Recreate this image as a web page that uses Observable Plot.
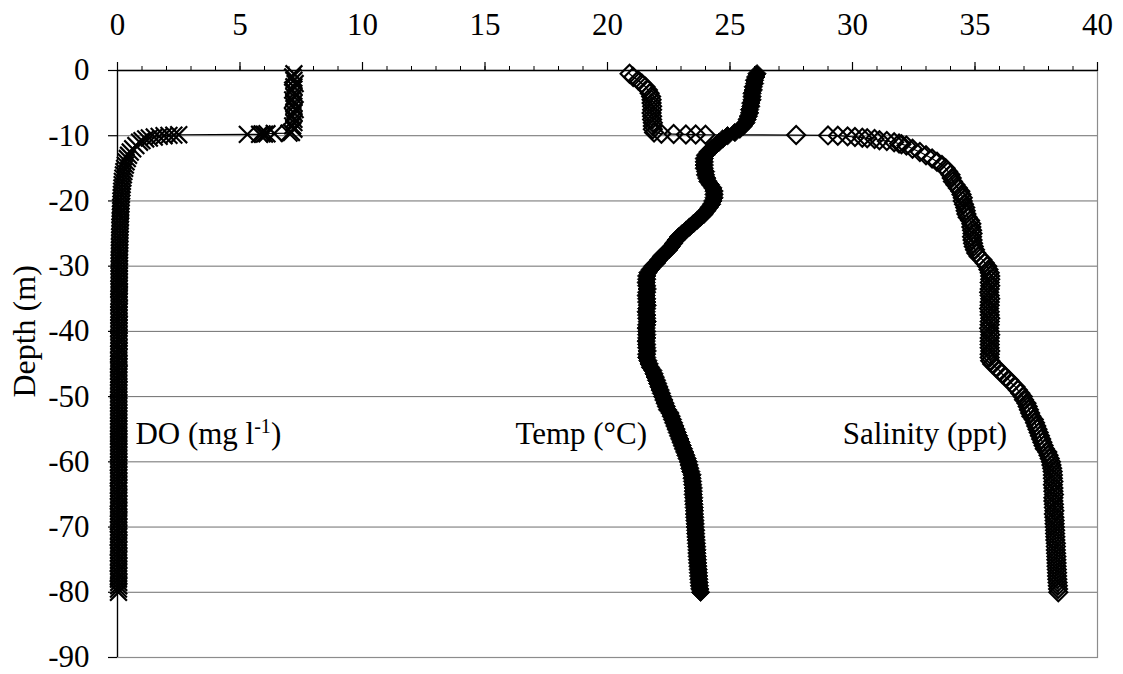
<!DOCTYPE html>
<html><head><meta charset="utf-8">
<script src="https://cdn.jsdelivr.net/npm/d3@7"></script>
<script src="https://cdn.jsdelivr.net/npm/@observablehq/plot@0.6"></script>
<style>
html,body{margin:0;padding:0;background:#fff;}
#chart svg{display:block;}
</style></head>
<body><div id="chart"></div>
<script>
// ---- axis ticks ----
const xTicks = [0, 5, 10, 15, 20, 25, 30, 35, 40];
const xMinorTicks = [0,1,2,3,4,5,6,7,8,9,10,11,12,13,14,15,16,17,18,19,20,21,22,23,24,25,26,27,28,29,30,31,32,33,34,35,36,37,38,39,40];
const yTicks = [0, -10, -20, -30, -40, -50, -60, -70, -80, -90];
const yGrid = [-10, -20, -30, -40, -50, -60, -70, -80];

// ---- shared depth grid (m) ----
const depth = [
  -0.5,-1,-1.5,-2,-2.5,-3,-3.5,-4,-4.5,-5,
  -5.5,-6,-6.5,-7,-7.5,-8,-8.5,-9,-9.5,-10,
  -10.5,-11,-11.5,-12,-12.5,-13,-13.5,-14,-14.5,-15,
  -15.5,-16,-16.5,-17,-17.5,-18,-18.5,-19,-19.5,-20,
  -20.5,-21,-21.5,-22,-22.5,-23,-23.5,-24,-24.5,-25,
  -25.5,-26,-26.5,-27,-27.5,-28,-28.5,-29,-29.5,-30,
  -30.5,-31,-31.5,-32,-32.5,-33,-33.5,-34,-34.5,-35,
  -35.5,-36,-36.5,-37,-37.5,-38,-38.5,-39,-39.5,-40,
  -40.5,-41,-41.5,-42,-42.5,-43,-43.5,-44,-44.5,-45,
  -45.5,-46,-46.5,-47,-47.5,-48,-48.5,-49,-49.5,-50,
  -50.5,-51,-51.5,-52,-52.5,-53,-53.5,-54,-54.5,-55,
  -55.5,-56,-56.5,-57,-57.5,-58,-58.5,-59,-59.5,-60,
  -60.5,-61,-61.5,-62,-62.5,-63,-63.5,-64,-64.5,-65,
  -65.5,-66,-66.5,-67,-67.5,-68,-68.5,-69,-69.5,-70,
  -70.5,-71,-71.5,-72,-72.5,-73,-73.5,-74,-74.5,-75,
  -75.5,-76,-76.5,-77,-77.5,-78,-78.5,-79,-79.5,-80
];

// ---- DO (mg l-1) on the grid ----
const doValue = [
  7.2,7.15,7.2,7.25,7.2,7.15,7.2,7.2,7.15,7.2,
  7.2,7.25,7.2,7.15,7.2,7.2,7.15,7.2,7.1,1.9,
  1.15,0.9,0.75,0.62,0.52,0.45,0.4,0.35,0.32,0.29,
  0.26,0.24,0.22,0.2,0.19,0.18,0.17,0.16,0.15,0.14,
  0.14,0.13,0.13,0.12,0.12,0.11,0.11,0.1,0.1,0.1,
  0.09,0.09,0.09,0.08,0.08,0.08,0.08,0.07,0.07,0.07,
  0.07,0.07,0.07,0.07,0.07,0.07,0.06,0.07,0.07,0.06,
  0.06,0.06,0.07,0.06,0.06,0.06,0.06,0.06,0.06,0.06,
  0.06,0.06,0.06,0.05,0.06,0.06,0.05,0.06,0.05,0.05,
  0.05,0.05,0.06,0.05,0.05,0.05,0.05,0.05,0.05,0.05,
  0.05,0.05,0.05,0.05,0.05,0.05,0.05,0.05,0.05,0.05,
  0.05,0.05,0.05,0.05,0.05,0.05,0.05,0.05,0.05,0.05,
  0.05,0.05,0.05,0.05,0.04,0.05,0.05,0.05,0.04,0.05,
  0.05,0.04,0.05,0.05,0.05,0.04,0.05,0.05,0.04,0.05,
  0.05,0.05,0.04,0.05,0.05,0.04,0.05,0.04,0.05,0.05,
  0.04,0.05,0.05,0.04,0.05,0.04,0.05,0.05,0.04,0.04
];
// DO readings spread across the oxycline near -10 m
const doExtraDepth = [-9.6,-9.65,-9.7,-9.72,-9.75,-9.78,-9.8,-9.85,-9.9,-9.95,-10.1,-10.2,-10.35,-10.75];
const doExtraValue = [7.0,6.4,6.1,5.9,6.0,5.8,5.3,2.5,2.3,2.1,1.7,1.5,1.3,1.0];

// ---- Temperature (°C) on the grid ----
const tempValue = [
  26.1,26.05,26.0,26.0,25.95,25.95,25.9,25.9,25.9,25.85,
  25.85,25.8,25.8,25.75,25.7,25.65,25.55,25.4,25.2,24.9,
  24.7,24.55,24.4,24.25,24.1,24.0,23.95,23.95,23.95,23.95,
  24.0,24.0,24.05,24.1,24.2,24.3,24.35,24.35,24.35,24.3,
  24.25,24.15,24.05,23.95,23.8,23.65,23.5,23.35,23.2,23.05,
  22.9,22.8,22.7,22.6,22.5,22.35,22.2,22.1,22.0,21.85,
  21.75,21.65,21.6,21.6,21.58,21.6,21.62,21.6,21.58,21.6,
  21.6,21.62,21.6,21.58,21.6,21.6,21.62,21.6,21.58,21.6,
  21.6,21.6,21.58,21.6,21.6,21.62,21.6,21.6,21.65,21.7,
  21.75,21.85,21.9,21.95,22.0,22.05,22.1,22.15,22.2,22.25,
  22.3,22.35,22.4,22.45,22.55,22.6,22.65,22.7,22.75,22.8,
  22.85,22.9,22.95,23.0,23.05,23.1,23.15,23.2,23.25,23.3,
  23.33,23.36,23.4,23.45,23.45,23.47,23.48,23.5,23.5,23.5,
  23.52,23.52,23.53,23.54,23.55,23.55,23.56,23.57,23.58,23.58,
  23.6,23.6,23.61,23.62,23.63,23.64,23.65,23.65,23.66,23.67,
  23.68,23.69,23.7,23.71,23.72,23.73,23.74,23.75,23.77,23.8
];

// ---- Salinity (ppt) on the grid ----
const salValue = [
  20.9,21.05,21.25,21.4,21.55,21.65,21.72,21.78,21.8,21.8,
  21.82,21.82,21.8,21.82,21.82,21.85,21.85,21.85,21.9,29.4,
  30.9,31.7,32.2,32.45,32.75,33.0,33.25,33.45,33.65,33.8,
  33.9,34.0,34.05,34.1,34.2,34.3,34.4,34.45,34.5,34.5,
  34.55,34.6,34.62,34.65,34.7,34.8,34.85,34.85,34.88,34.9,
  34.88,34.9,34.92,34.95,35.0,35.05,35.15,35.3,35.4,35.5,
  35.55,35.6,35.62,35.62,35.6,35.62,35.6,35.58,35.6,35.62,
  35.6,35.6,35.58,35.6,35.6,35.62,35.6,35.6,35.58,35.6,
  35.62,35.6,35.6,35.6,35.6,35.62,35.6,35.6,35.62,35.7,
  35.85,36.0,36.1,36.25,36.4,36.5,36.65,36.75,36.85,36.95,
  37.0,37.1,37.15,37.2,37.25,37.3,37.4,37.45,37.5,37.55,
  37.6,37.65,37.7,37.75,37.8,37.85,37.95,38.0,38.05,38.1,
  38.12,38.15,38.17,38.18,38.18,38.2,38.18,38.2,38.2,38.22,
  38.2,38.2,38.22,38.22,38.24,38.22,38.24,38.25,38.25,38.26,
  38.27,38.27,38.28,38.28,38.3,38.3,38.3,38.31,38.32,38.32,
  38.33,38.33,38.34,38.35,38.35,38.36,38.37,38.38,38.39,38.4
];
// salinity readings spread across the halocline near -10 m
const salExtraDepth = [-9.7,-9.75,-9.8,-9.82,-9.85,-9.9,-9.95,-10.1,-10.2,-10.3,-10.4,-10.7,-10.8,-11.2,-11.3];
const salExtraValue = [22.2,22.7,23.2,23.6,24.0,27.7,29.0,29.8,30.1,30.4,30.6,31.1,31.4,31.9,32.0];

// ---- text labels ----
const seriesLabel = ["DO (mg l-1)", "Temp (°C)", "Salinity (ppt)"];
const seriesLabelX = [0.73, 16.24, 29.6];
const seriesLabelDepth = [-55.7, -55.7, -55.7];
const yTitle = "Depth (m)";
const yTitleDepth = -40;

// ---- build tables ----
function series(values, exDepth, exValue) {
  const rows = depth.map((d, i) => ({depth: d, value: values[i]}));
  if (exDepth) exDepth.forEach((d, i) => rows.push({depth: d, value: exValue[i]}));
  return d3.sort(rows, r => -r.depth);
}
const doRows = series(doValue, doExtraDepth, doExtraValue);
const tempRows = series(tempValue);
const salRows = series(salValue, salExtraDepth, salExtraValue);
const labelRows = seriesLabel.map((t, i) => ({text: t, x: seriesLabelX[i], y: seriesLabelDepth[i]}));

const FONT = "'Liberation Serif', 'Times New Roman', serif";

const chart = Plot.plot({
  width: 1123,
  height: 674,
  marginLeft: 117,
  marginRight: 26,
  marginTop: 70,
  marginBottom: 17,
  style: {fontFamily: FONT, fontSize: "31px", color: "#000", background: "#fff"},
  x: {domain: [0, 40]},
  y: {domain: [-90, 0]},
  marks: [
    Plot.ruleY(yGrid, {stroke: "#6e6e6e", strokeWidth: 1}),
    Plot.frame({stroke: "#8c8c8c", strokeWidth: 1.2}),
    Plot.ruleX([0], {stroke: "#000", strokeWidth: 1.3}),
    Plot.ruleY([0], {stroke: "#000", strokeWidth: 1.3}),
    Plot.axisX({anchor: "top", ticks: xMinorTicks, tickSize: 5, tickFormat: () => "", label: null, strokeWidth: 1}),
    Plot.axisX({anchor: "top", ticks: xTicks, tickSize: 9, tickPadding: 27, tickFormat: d => String(d), label: null, strokeWidth: 1.2}),
    Plot.axisY({anchor: "left", ticks: yTicks, tickSize: 9, tickPadding: 19, tickFormat: d => String(d), label: null, strokeWidth: 1.2}),
    // DO
    Plot.line(doRows, {x: "value", y: "depth", stroke: "#000", strokeWidth: 1.2}),
    Plot.dot(doRows, {x: "value", y: "depth", symbol: "times", r: 7.7, stroke: "#000", strokeWidth: 2.2}),
    // Temperature
    Plot.line(tempRows, {x: "value", y: "depth", stroke: "#000", strokeWidth: 1.2}),
    Plot.dot(tempRows, {x: "value", y: "depth", symbol: "diamond2", r: 8.3, fill: "#000", stroke: "#000", strokeWidth: 1}),
    // Salinity
    Plot.line(salRows, {x: "value", y: "depth", stroke: "#000", strokeWidth: 1.2}),
    Plot.dot(salRows, {x: "value", y: "depth", symbol: "diamond2", r: 8.1, fill: "none", stroke: "#000", strokeWidth: 2.1}),
    // labels
    Plot.text(labelRows, {x: "x", y: "y", text: "text", textAnchor: "start", lineAnchor: "middle", fontSize: 31, fill: "#000"}),
    Plot.text([{t: yTitle, y: yTitleDepth}], {y: "y", text: "t", frameAnchor: "left", dx: -93, rotate: -90, textAnchor: "middle", lineAnchor: "middle", fontSize: 32, fill: "#000"})
  ]
});

document.getElementById("chart").appendChild(chart);

// superscript for the DO unit
d3.select(chart).selectAll("text").each(function() {
  if (this.textContent === "DO (mg l-1)") {
    const t = d3.select(this);
    t.text("DO (mg l");
    t.append("tspan").attr("dy", "-11").attr("font-size", "20").text("-1");
    t.append("tspan").attr("dy", "11").attr("font-size", "31").text(")");
  }
});
</script>
</body></html>
